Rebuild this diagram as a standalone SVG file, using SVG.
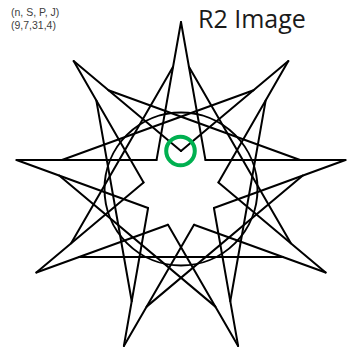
<svg xmlns="http://www.w3.org/2000/svg" xmlns:xlink="http://www.w3.org/1999/xlink" width="355" height="349" viewBox="0 0 355 349">
<style>
.ln{stroke:#000;stroke-width:2;fill:none;stroke-linecap:round;stroke-linejoin:round}
.small{font-family:"Liberation Sans",Arial,sans-serif;font-size:10.5px;fill:#404040}
.title{font-family:"Open Sans","Noto Sans",sans-serif;font-size:25px;fill:#1a1a1a}
</style>
<defs>
<g id="sec">
<line x1="181" y1="22" x2="156.57" y2="159.89"/>
<line x1="181" y1="22" x2="205.43" y2="159.89"/>
<line x1="173.08" y1="66.7" x2="71.13" y2="243.29"/>
</g>
</defs>
<rect width="355" height="349" fill="#fff"/>
<g id="labels">
<text class="small" x="11" y="15.5">(n, S, P, J)</text>
<text class="small" x="11" y="28.5">(9,7,31,4)</text>
<text class="title" x="198" y="28.3">R2 Image</text>
</g>
<g id="connectors" class="ln">
<use xlink:href="#sec"/>
<use xlink:href="#sec" transform="rotate(40 181 189)"/>
<use xlink:href="#sec" transform="rotate(80 181 189)"/>
<use xlink:href="#sec" transform="rotate(120 181 189)"/>
<use xlink:href="#sec" transform="rotate(160 181 189)"/>
<use xlink:href="#sec" transform="rotate(200 181 189)"/>
<use xlink:href="#sec" transform="rotate(240 181 189)"/>
<use xlink:href="#sec" transform="rotate(280 181 189)"/>
<use xlink:href="#sec" transform="rotate(320 181 189)"/>
<circle cx="181" cy="189" r="76.5"/>
</g>
<g id="marker">
<circle cx="180.5" cy="151" r="14.3" fill="none" stroke="#00b050" stroke-width="4"/>
</g>
</svg>
